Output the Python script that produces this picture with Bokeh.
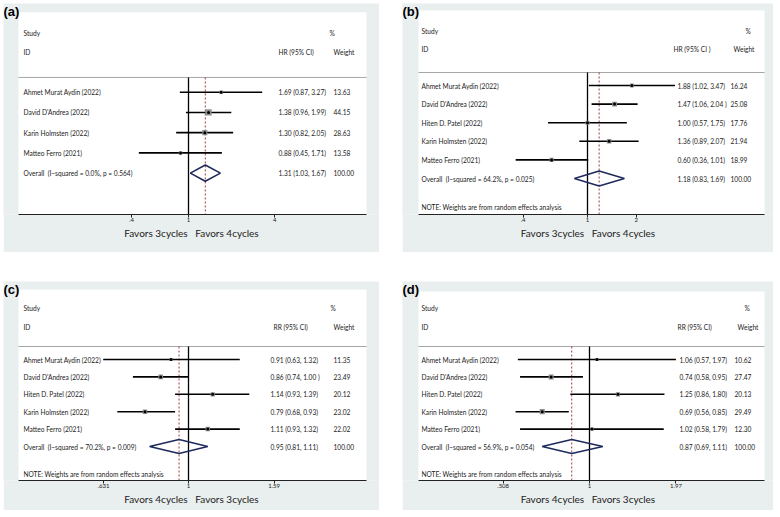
import math
from bokeh.plotting import figure
from bokeh.layouts import row, column
from bokeh.models import FixedTicker, Range1d, ColumnDataSource, Spacer
from bokeh.core.properties import value
from bokeh.embed import file_html
from bokeh.resources import INLINE

# ---------------- data ----------------
studies_4 = ["Ahmet Murat Aydin (2022)", "David D'Andrea (2022)",
             "Karin Holmsten (2022)", "Matteo Ferro (2021)"]
studies_5 = ["Ahmet Murat Aydin (2022)", "David D'Andrea (2022)", "Hiten D. Patel (2022)",
             "Karin Holmsten (2022)", "Matteo Ferro (2021)"]

# (a) HR
est_a = [1.69, 1.38, 1.30, 0.88]
lo_a = [0.87, 0.96, 0.82, 0.45]
hi_a = [3.27, 1.99, 2.05, 1.71]
ci_txt_a = ["1.69 (0.87, 3.27)", "1.38 (0.96, 1.99)", "1.30 (0.82, 2.05)", "0.88 (0.45, 1.71)"]
weight_a = [13.63, 44.15, 28.63, 13.58]
overall_a = [1.31, 1.03, 1.67]
overall_lab_a = "Overall\u00a0 (I\u2212squared = 0.0%, p = 0.564)"
overall_txt_a = "1.31 (1.03, 1.67)"
ticks_a = [0.4, 1.0, 4.0]
tick_labels_a = [".4", "1", "4"]

# (b) HR
est_b = [1.88, 1.47, 1.00, 1.36, 0.60]
lo_b = [1.02, 1.06, 0.57, 0.89, 0.36]
hi_b = [3.47, 2.04, 1.75, 2.07, 1.01]
ci_txt_b = ["1.88 (1.02, 3.47)", "1.47 (1.06, 2.04 )", "1.00 (0.57, 1.75)",
            "1.36 (0.89, 2.07)", "0.60 (0.36, 1.01)"]
weight_b = [16.24, 25.08, 17.76, 21.94, 18.99]
overall_b = [1.18, 0.83, 1.69]
overall_lab_b = "Overall\u00a0 (I\u2212squared = 64.2%, p = 0.025)"
overall_txt_b = "1.18 (0.83, 1.69)"
ticks_b = [0.4, 1.0, 2.0]
tick_labels_b = [".4", "1", "2"]

# (c) RR
est_c = [0.91, 0.86, 1.14, 0.79, 1.11]
lo_c = [0.63, 0.74, 0.93, 0.68, 0.93]
hi_c = [1.32, 1.00, 1.39, 0.93, 1.32]
ci_txt_c = ["0.91 (0.63, 1.32)", "0.86 (0.74, 1.00 )", "1.14 (0.93, 1.39)",
            "0.79 (0.68, 0.93)", "1.11 (0.93, 1.32)"]
weight_c = [11.35, 23.49, 20.12, 23.02, 22.02]
overall_c = [0.95, 0.81, 1.11]
overall_lab_c = "Overall\u00a0 (I\u2212squared = 70.2%, p = 0.009)"
overall_txt_c = "0.95 (0.81, 1.11)"
ticks_c = [0.631, 1.0, 1.59]
tick_labels_c = [".631", "1", "1.59"]

# (d) RR
est_d = [1.06, 0.74, 1.25, 0.69, 1.02]
lo_d = [0.57, 0.58, 0.86, 0.56, 0.58]
hi_d = [1.97, 0.95, 1.80, 0.85, 1.79]
ci_txt_d = ["1.06 (0.57, 1.97)", "0.74 (0.58, 0.95)", "1.25 (0.86, 1.80)",
            "0.69 (0.56, 0.85)", "1.02 (0.58, 1.79)"]
weight_d = [10.62, 27.47, 20.13, 29.49, 12.30]
overall_d = [0.87, 0.69, 1.11]
overall_lab_d = "Overall\u00a0 (I\u2212squared = 56.9%, p = 0.054)"
overall_txt_d = "0.87 (0.69, 1.11)"
ticks_d = [0.508, 1.0, 1.97]
tick_labels_d = [".508", "1", "1.97"]

note_text = "NOTE: Weights are from random effects analysis"

# ---------------- style ----------------
BG = "#e9eeee"
FONT = "Lato"
TXT = "6.6px"
NAVY = "#1f2b5c"
RED = "#9e3a3e"
INK = "#222222"


def forest(tag, studies, est, lo, hi, ci_txt, wts, ov, ov_lab, ov_txt, ci_head,
           fav_label, ticks, tick_labels, note, g):
    gx0, gy0, gx1, gy1 = g["gray"]
    wx0, wy0, wx1, wy1 = g["white"]
    N, s, A, r = g["null"], g["scale"], g["row0"], g["rowh"]

    def X(px):
        return math.exp((px - N) / s)

    def Y(py):
        return (A - py) / r

    p = figure(width=gx1 - gx0, height=gy1 - gy0, x_axis_type="log",
               x_range=Range1d(X(gx0), X(gx1)), y_range=Range1d(Y(wy1), Y(gy0)),
               output_backend="svg", toolbar_location=None, y_axis_location=None,
               min_border_left=0, min_border_right=0, min_border_top=0,
               min_border_bottom=gy1 - wy1,
               border_fill_color=BG, background_fill_color=BG,
               outline_line_color=None)
    p.xgrid.visible = False
    p.ygrid.visible = False

    ax = p.xaxis[0]
    ax.bounds = (X(wx0), X(wx1))
    ax.ticker = FixedTicker(ticks=ticks)
    ax.major_label_overrides = {t: l for t, l in zip(ticks, tick_labels)}
    ax.minor_tick_line_color = None
    ax.major_tick_out = 3
    ax.major_tick_in = 0
    ax.major_label_standoff = 0
    ax.major_label_text_font = FONT
    ax.major_label_text_font_size = "6px"
    ax.major_label_text_color = INK
    ax.axis_line_color = INK
    ax.major_tick_line_color = INK
    ax.axis_label = fav_label
    ax.axis_label_standoff = 2
    ax.axis_label_text_font = FONT
    ax.axis_label_text_font_size = "10px"
    ax.axis_label_text_font_style = "normal"
    ax.axis_label_text_color = INK

    ybot = Y(wy1)
    sep = Y(g["sep"])

    # white plot region
    p.quad(left=[X(wx0)], right=[X(wx1)], bottom=[ybot], top=[Y(wy0)],
           fill_color="white", line_color=None)

    n = len(studies)
    ys = [-i for i in range(n)]
    yov = -n

    # separator, null line, overall line
    p.segment(x0=[X(wx0)], y0=[sep], x1=[X(wx1)], y1=[sep], line_color="#a6a6a6", line_width=1)
    p.segment(x0=[1.0], y0=[sep], x1=[1.0], y1=[ybot], line_color="black", line_width=1.3)
    p.segment(x0=[ov[0]], y0=[sep], x1=[ov[0]], y1=[ybot], line_color=RED,
              line_width=1, line_dash="2 2")

    # study estimates
    src = ColumnDataSource(dict(est=est, lo=lo, hi=hi, y=ys,
                                size=[0.95 * math.sqrt(w) for w in wts]))
    p.segment(x0="lo", y0="y", x1="hi", y1="y", source=src, line_color="black", line_width=1.6)
    p.scatter(x="est", y="y", size="size", marker="square", source=src,
              fill_color="#8e8e8e", line_color=None)
    p.scatter(x="est", y="y", size=3, marker="circle", source=src,
              fill_color="black", line_color=None)

    # overall diamond
    p.patch(x=[ov[1], ov[0], ov[2], ov[0], ov[1]],
            y=[yov, yov + 0.4, yov, yov - 0.4, yov],
            fill_color=None, line_color=NAVY, line_width=1.6)

    c = g["cols"]
    tk = dict(text_font=value(FONT), text_font_size=value(TXT), text_color=INK,
              text_baseline="middle", text_align="left")
    yrows = ys + [yov]
    p.text(x=[X(c["study"])] * (n + 1), y=yrows, text=studies + [ov_lab], **tk)
    p.text(x=[X(c["ci"])] * (n + 1), y=yrows, text=ci_txt + [ov_txt], **tk)
    p.text(x=[X(c["w"])] * (n + 1), y=yrows,
           text=["%.2f" % w for w in wts] + ["100.00"], **tk)
    hsrc = ColumnDataSource(dict(
        x=[X(c["study"]), X(c["study"]), X(c["pct"]), X(c["hci"]), X(c["hw"])],
        y=[Y(g["h1"]), Y(g["h2"]), Y(g["h1"]), Y(g["h2"]), Y(g["h2"])],
        t=["Study", "ID", "%", ci_head, "Weight"]))
    p.text(x="x", y="y", text="t", source=hsrc, **tk)
    if note:
        p.text(x=[X(c["study"])], y=[Y(g["note"])], text=[note], **tk)

    # panel tag in the top-left corner of the grey box
    p.text(x=[X(gx0 + g["tagdx"])], y=[Y(gy0 + g["tagdy"])], text=[tag],
           text_font=value("Liberation Sans"), text_font_style="bold",
           text_font_size=value("13px"), text_color="black",
           text_align="left", text_baseline="top")
    return p


FAV_34 = "Favors 3cycles\u00a0\u00a0 Favors 4cycles"
FAV_43 = "Favors 4cycles\u00a0\u00a0 Favors 3cycles"

geo_a = dict(gray=(3, 3, 379, 252), white=(18, 12, 366, 217), null=188, scale=62.2,
             row0=93, rowh=20.5, sep=78, h1=33, h2=52, tagdx=0, tagdy=0,
             cols=dict(study=23, ci=278, w=333, pct=329, hci=278, hw=333))
geo_b = dict(gray=(402, 3, 773, 252), white=(418, 10, 764, 214), null=587, scale=70.3,
             row0=85, rowh=18.6, sep=72, h1=30, h2=48, note=206, tagdx=0, tagdy=0,
             cols=dict(study=421, ci=677, w=730, pct=745, hci=673, hw=733))
geo_c = dict(gray=(3, 281, 379, 510), white=(18, 289, 366, 480), null=188, scale=184.6,
             row0=359, rowh=17.4, sep=346, h1=307, h2=326, note=473, tagdx=0, tagdy=0,
             cols=dict(study=23, ci=270, w=333, pct=330, hci=273, hw=333))
geo_d = dict(gray=(402, 281, 773, 510), white=(418, 291, 764, 480), null=589, scale=127.5,
             row0=359, rowh=17.4, sep=346, h1=307, h2=326, note=473, tagdx=0, tagdy=0,
             cols=dict(study=421, ci=679, w=734, pct=744, hci=677, hw=737))

pa = forest("(a)", studies_4, est_a, lo_a, hi_a, ci_txt_a, weight_a, overall_a, overall_lab_a,
            overall_txt_a, "HR (95% CI)", FAV_34, ticks_a, tick_labels_a, None, geo_a)
pb = forest("(b)", studies_5, est_b, lo_b, hi_b, ci_txt_b, weight_b, overall_b, overall_lab_b,
            overall_txt_b, "HR (95% CI )", FAV_34, ticks_b, tick_labels_b, note_text, geo_b)
pc = forest("(c)", studies_5, est_c, lo_c, hi_c, ci_txt_c, weight_c, overall_c, overall_lab_c,
            overall_txt_c, "RR (95% CI)", FAV_43, ticks_c, tick_labels_c, note_text, geo_c)
pd_ = forest("(d)", studies_5, est_d, lo_d, hi_d, ci_txt_d, weight_d, overall_d, overall_lab_d,
             overall_txt_d, "RR (95% CI)", FAV_43, ticks_d, tick_labels_d, note_text, geo_d)

layout = column(
    Spacer(width=773, height=3),
    row(Spacer(width=3, height=249), pa, Spacer(width=23, height=249), pb),
    Spacer(width=773, height=29),
    row(Spacer(width=3, height=229), pc, Spacer(width=23, height=229), pd_),
)

open("out.html", "w").write(file_html(layout, INLINE))
